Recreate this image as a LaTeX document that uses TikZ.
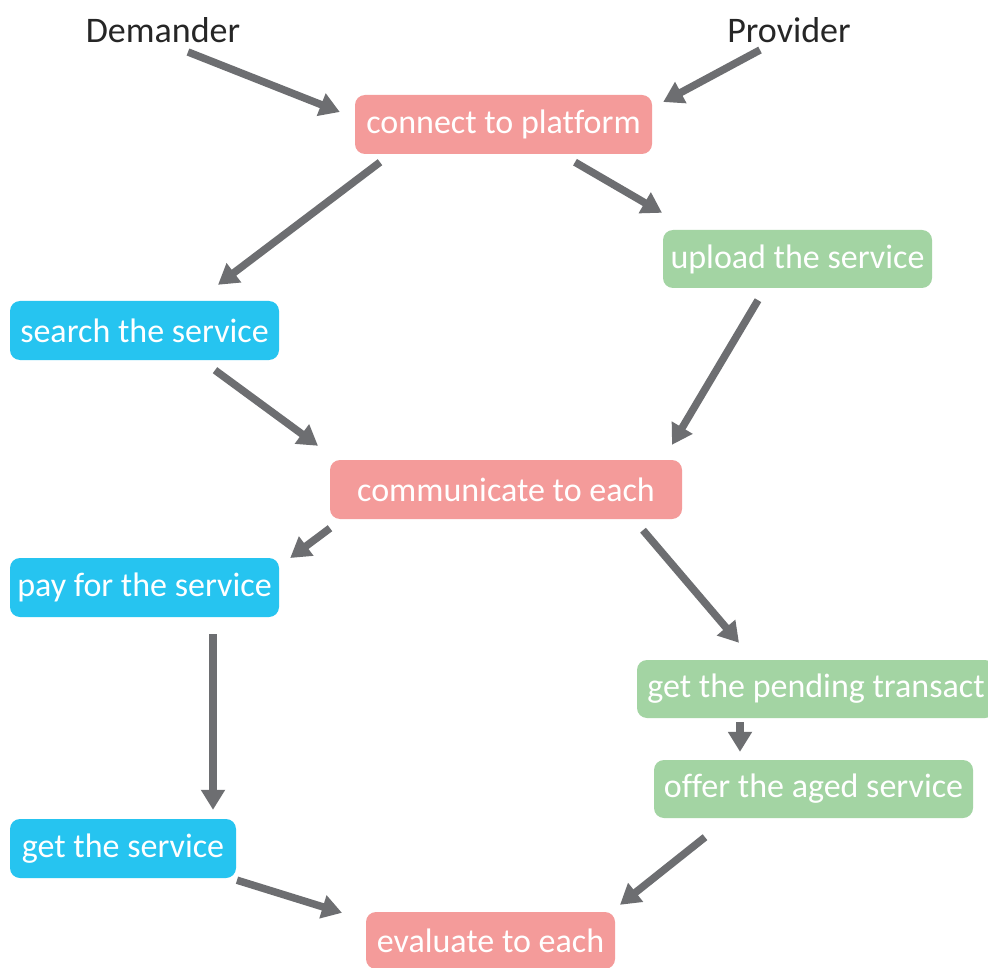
\documentclass[tikz,border=0pt]{standalone}
\usepackage{fontspec}
\setmainfont[Ligatures=NoCommon]{Carlito}
\usetikzlibrary{arrows.meta}
\definecolor{pinkbox}{HTML}{F49B9A}
\definecolor{greenbox}{HTML}{A3D4A3}
\definecolor{bluebox}{HTML}{26C4F0}
\definecolor{arrowgray}{HTML}{6D6E71}
\definecolor{labelgray}{HTML}{262626}
\begin{document}
\begin{tikzpicture}[x=1pt, y=-1pt,
  every node/.style={font=\fontsize{34}{40}\selectfont},
  stepbox/.style={rounded corners=10pt, text=white, inner sep=0pt, minimum height=59pt},
  demand/.style={stepbox, fill=bluebox},
  provide/.style={stepbox, fill=greenbox},
  shared/.style={stepbox, fill=pinkbox},
  role/.style={text=labelgray, inner sep=0pt, font=\fontsize{36}{42}\selectfont},
  flow/.style={draw=arrowgray, line width=7.5pt, -{Triangle[length=20pt, width=23pt]}}]
\useasboundingbox (0,0) rectangle (988,968);
\fill[white] (0,0) rectangle (988,968);
\node[role] (dem) at (163,30) {Demander};
\node[role] (prov) at (789,30) {Provider};
\node[shared, minimum width=297pt] (connect) at (503.5,124.5) {connect to platform};
\node[provide, minimum width=269pt, minimum height=58pt] (upload) at (797.5,259) {upload the service};
\node[demand, minimum width=269pt] (search) at (144.5,330.5) {search the service};
\node[shared, minimum width=352pt] (comm) at (506,489.5) {communicate to each};
\node[demand, minimum width=269pt] (pay) at (144.5,587.5) {pay for the service};
\node[provide, minimum width=358pt, minimum height=58pt] (pending) at (816,689) {get the pending transact};
\node[provide, minimum width=319pt, minimum height=58pt] (offer) at (813.5,789) {offer the aged service};
\node[demand, minimum width=226pt] (getsvc) at (123,848.5) {get the service};
\node[shared, minimum width=249pt, minimum height=57pt] (eval) at (490.5,940.5) {evaluate to each};
\draw[flow] ([shift={(25,22)}]dem.center) -- ([shift={(-15,-12.5)}]connect.west);
\draw[flow] ([shift={(-29,20)}]prov.center) -- ([shift={(11,-22.5)}]connect.east);
\draw[flow] ([shift={(-123.5,8)}]connect.south) -- ([shift={(73.5,-16)}]search.north);
\draw[flow] ([shift={(71.5,8)}]connect.south) -- ([shift={(-135.5,-17)}]upload.north);
\draw[flow] ([shift={(-39.5,12)}]upload.south) -- ([shift={(166,-15)}]comm.north);
\draw[flow] ([shift={(70.5,10)}]search.south) -- ([shift={(-188,-14)}]comm.north);
\draw[flow] ([shift={(-176,9)}]comm.south) -- ([shift={(11,-29.5)}]pay.east);
\draw[flow] ([shift={(137,11)}]comm.south) -- ([shift={(-77,-17)}]pending.north);
\draw[flow] ([shift={(68.5,17)}]pay.south) -- ([shift={(90,-9)}]getsvc.north);
\draw[flow] ([shift={(-76,4)}]pending.south) -- ([shift={(-73.5,-8)}]offer.north);
\draw[flow] ([shift={(-108.5,19)}]offer.south) -- ([shift={(129.5,-7)}]eval.north);
\draw[flow] ([shift={(114,2)}]getsvc.south) -- ([shift={(-148.5,1)}]eval.north);
\end{tikzpicture}
\end{document}
